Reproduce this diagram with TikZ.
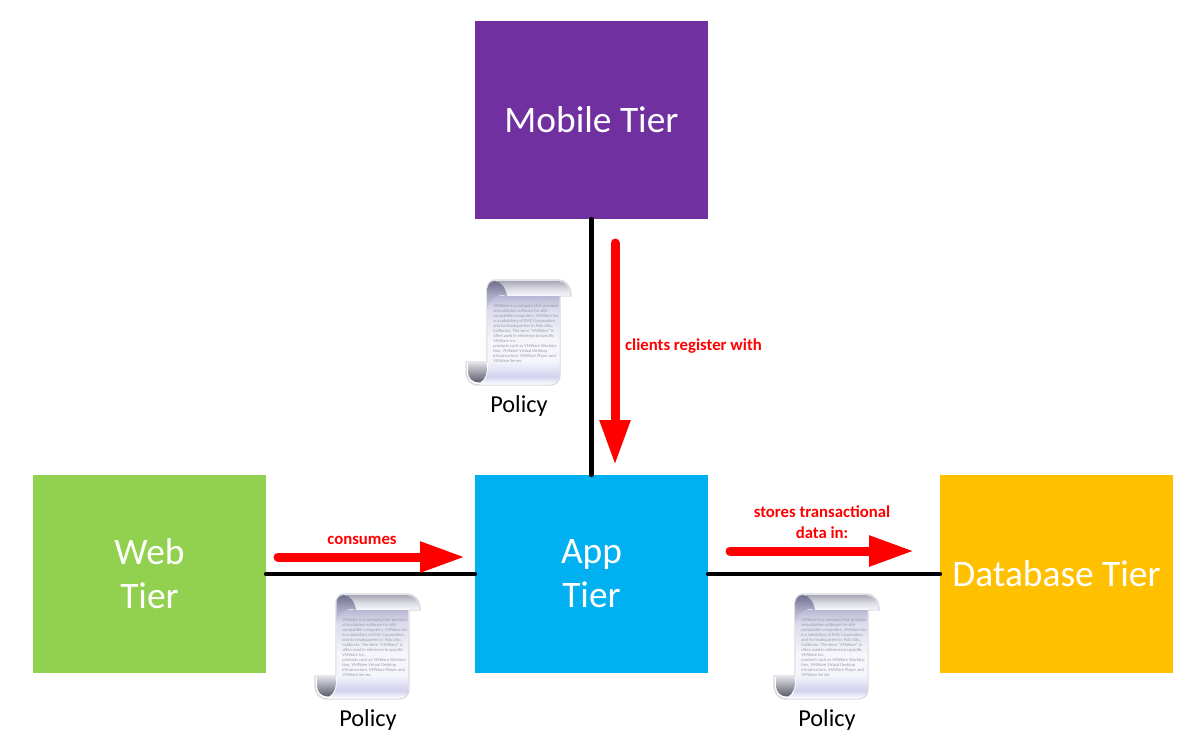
\documentclass[tikz,border=0pt]{standalone}
\usepackage{fontspec}
\setmainfont{Carlito}
\usetikzlibrary{arrows.meta}
\definecolor{mobilepurple}{HTML}{7030A0}
\definecolor{webgreen}{HTML}{92D050}
\definecolor{appblue}{HTML}{00B0F0}
\definecolor{dbgold}{HTML}{FFC000}
\definecolor{scrolledge}{HTML}{D8D8DE}
\definecolor{scrolltext}{HTML}{9C9CA8}
\pgfdeclareverticalshading{scrollbody}{100bp}{
  rgb(0bp)=(1,1,1);
  rgb(25bp)=(1,1,1);
  rgb(29.5bp)=(.82,.82,.93);
  rgb(38bp)=(.96,.96,.99);
  rgb(50.6bp)=(.96,.96,.98);
  rgb(67.6bp)=(.86,.86,.93);
  rgb(75bp)=(.72,.72,.83);
  rgb(100bp)=(.72,.72,.83)}
\pgfdeclareverticalshading{scrollband}{100bp}{
  rgb(0bp)=(.96,.96,.98);
  rgb(25bp)=(.96,.96,.98);
  rgb(50bp)=(.85,.85,.89);
  rgb(75bp)=(.66,.66,.72);
  rgb(100bp)=(.66,.66,.72)}
\pgfdeclareverticalshading{scrollroll}{100bp}{
  rgb(0bp)=(.82,.82,.89);
  rgb(25bp)=(.82,.82,.89);
  rgb(50bp)=(.66,.66,.77);
  rgb(75bp)=(.44,.44,.55);
  rgb(100bp)=(.44,.44,.55)}
\pgfdeclareverticalshading{scrollcurl}{100bp}{
  rgb(0bp)=(.36,.36,.42);
  rgb(25bp)=(.36,.36,.42);
  rgb(75bp)=(.86,.86,.89);
  rgb(100bp)=(.86,.86,.89)}
\tikzset{
  tier/.style={minimum width=233*0.025cm,minimum height=198*0.025cm,inner sep=0pt,outer sep=0pt,
    text=white,align=center,font=\fontsize{26.6}{31.2}\selectfont},
  link/.style={line width=3pt,black,line cap=round},
  flow/.style={line width=6.4pt,red,line cap=round,-{Triangle[length=32pt,width=20.5pt]}},
  flowlabel/.style={red,align=center,font=\fontsize{11.9}{15.4}\selectfont\bfseries},
  policylabel/.style={font=\fontsize{17.3}{20}\selectfont},
  policy scroll/.pic={
    \fill[white,draw=scrolledge,line width=1pt] (29,1) -- (92,1) .. controls (100,1) and (105,8) .. (105,17)
      -- (94,17) -- (94,96) .. controls (94,102) and (90,106) .. (84,106) -- (13,106)
      .. controls (4,106) and (0,100) .. (0,92) -- (0,83) -- (21,83) -- (21,10)
      .. controls (21,5) and (25,1) .. (29,1) -- cycle;
    \shade[shading=scrollbody] (21.5,17) -- (93.5,17) -- (93.5,96) .. controls (93.5,101.5) and (89.5,105.5) .. (84,105.5)
      -- (14,105.5) .. controls (20,102) and (23,94) .. (21.5,83) -- cycle;
    \shade[shading=scrollband] (30,2) -- (92,2) .. controls (99,2) and (104,8) .. (104,16.5)
      -- (41,16.5) .. controls (40,9) and (36,3) .. (30,2) -- cycle;
    \shade[shading=scrollroll] (21.5,30) -- (21.5,10) .. controls (21.5,5) and (25,2) .. (29,2)
      .. controls (35,2) and (40,9) .. (41,17) .. controls (33,15) and (24,17) .. (21.5,30) -- cycle;
    \shade[shading=scrollcurl] (2,84) -- (20.5,84) .. controls (22,94) and (19,101) .. (14,103.5)
      .. controls (6,103.5) and (2,99) .. (2,92) -- cycle;
    \node[anchor=north west,inner sep=0pt,text=scrolltext,align=left,
      font=\fontsize{3.15}{3.55}\selectfont] (policytext) at (27,25)
      {VMWare is a company that provides\\virtualization software for x86-\\compatible computers. VMWare Inc.\\is a subsidiary of EMC Corporation\\and its headquarters in Palo Alto,\\California. The term ``VMWare'' is\\often used in reference to specific\\VMWare Inc.\\products such as VMWare Worksta-\\tion, VMWare Virtual Desktop\\Infrastructure, VMWare Player and\\VMWare Server.};
  }
}
\begin{document}
\begin{tikzpicture}[x=0.025cm,y=-0.025cm]
\useasboundingbox (0,0) rectangle (1187,739);
% tiers
\node[tier,fill=mobilepurple] (mobile) at (591.5,120) {Mobile Tier};
\node[tier,fill=webgreen] (web) at (149.5,574) {Web\\Tier};
\node[tier,fill=appblue] (app) at (591.5,574) {App\\Tier};
\node[tier,fill=dbgold] (db) at (1056.5,574) {Database Tier};
% links
\draw[link] (mobile.south) -- (app.north);
\draw[link] (web.east) -- (app.west);
\draw[link] (app.east) -- (db.west);
% policies
\pic (policyA) at (466,279) {policy scroll};
\pic (policyB) at (315,593) {policy scroll};
\pic (policyC) at (774,593) {policy scroll};
\node[policylabel] (policylabelA) at (519,406) {Policy};
\node[policylabel] (policylabelB) at (368,720) {Policy};
\node[policylabel] (policylabelC) at (827,720) {Policy};
% flows
\coordinate (clientsstart) at (615,243);
\coordinate (clientsend) at (615,465);
\coordinate (consumesstart) at (278,557);
\coordinate (consumesend) at (465,557);
\coordinate (storesstart) at (730,551);
\coordinate (storesend) at (914,551);
\draw[flow] (clientsstart) -- (clientsend);
\draw[flow] (consumesstart) -- (consumesend);
\draw[flow] (storesstart) -- (storesend);
\node[flowlabel] (clientslabel) at (693.5,346) {clients register with};
\node[flowlabel] (consumeslabel) at (362,540) {consumes};
\node[flowlabel] (storeslabel) at (822,522) {stores transactional\\data in:};
\end{tikzpicture}
\end{document}
